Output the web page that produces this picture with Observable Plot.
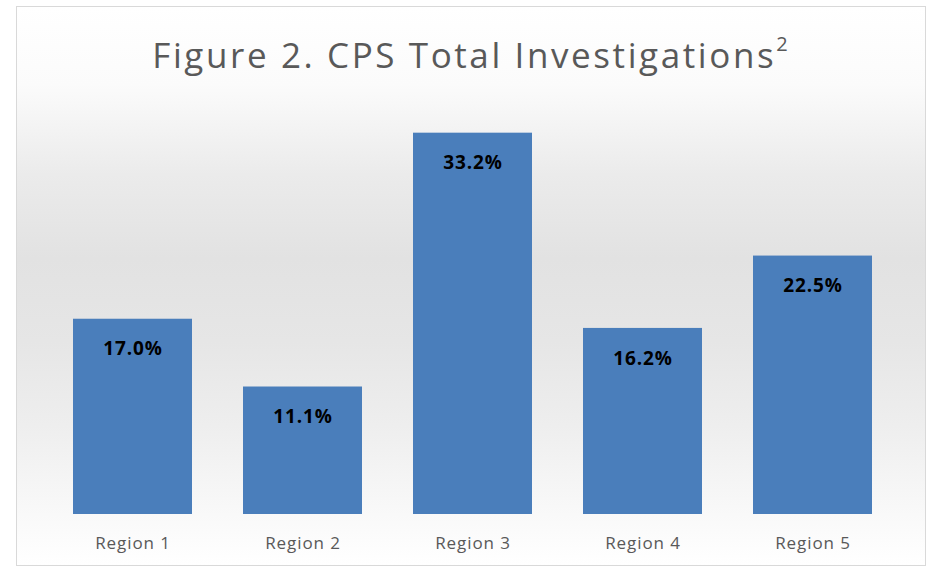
<!DOCTYPE html>
<html>
<head>
<meta charset="utf-8">
<script src="https://cdn.jsdelivr.net/npm/d3@7"></script>
<script src="https://cdn.jsdelivr.net/npm/@observablehq/plot@0.6"></script>
<style>
  html, body { margin: 0; padding: 0; background: #fff; }
  #frame {
    position: absolute; left: 16px; top: 6px; width: 910px; height: 560px;
    border: 1px solid #d9d9d9; box-sizing: border-box;
    background: linear-gradient(to bottom, #ffffff 0%, #fbfbfb 14%, #ebebeb 30%, #e2e2e2 45%, #e6e6e6 60%, #eeeeee 75%, #f7f7f7 88%, #ffffff 100%);
  }
  #title {
    position: absolute; left: 0; top: 31px; width: 940px; text-align: center;
    font-family: "Open Sans", sans-serif; font-size: 35px; color: #595959;
    letter-spacing: 2.6px;
  }
  #title sup { font-size: 20px; position: relative; top: -4px; letter-spacing: 0; }
  #chart { position: absolute; left: 0; top: 0; }
  #chart svg text { letter-spacing: 0.9px; }
</style>
</head>
<body>
<div id="frame"></div>
<div id="title">Figure 2. CPS Total Investigations<sup>2</sup></div>
<div id="chart"></div>
<script>
const regions = ["Region 1", "Region 2", "Region 3", "Region 4", "Region 5"];
const values = [17.0, 11.1, 33.2, 16.2, 22.5];
const valueLabels = ["17.0%", "11.1%", "33.2%", "16.2%", "22.5%"];

const data = regions.map((r, i) => ({region: r, value: values[i], label: valueLabels[i]}));

const plot = Plot.plot({
  width: 932,
  height: 569,
  marginLeft: 46,
  marginRight: 33,
  marginTop: 112,
  marginBottom: 55,
  style: {background: "transparent", fontFamily: "Open Sans, sans-serif"},
  x: {domain: regions, paddingInner: 0.3, paddingOuter: 0.15, label: null},
  y: {domain: [0, 35], axis: null},
  marks: [
    Plot.barY(data, {x: "region", y: "value", fill: "#4a7ebb"}),
    Plot.text(data, {x: "region", y: "value", text: "label", dy: 30, fill: "#000", fontWeight: "bold", fontSize: 19}),
    Plot.axisX({tickSize: 0, tickPadding: 22, fontSize: 17, fill: "#595959", label: null})
  ]
});
document.getElementById("chart").appendChild(plot);
</script>
</body>
</html>
